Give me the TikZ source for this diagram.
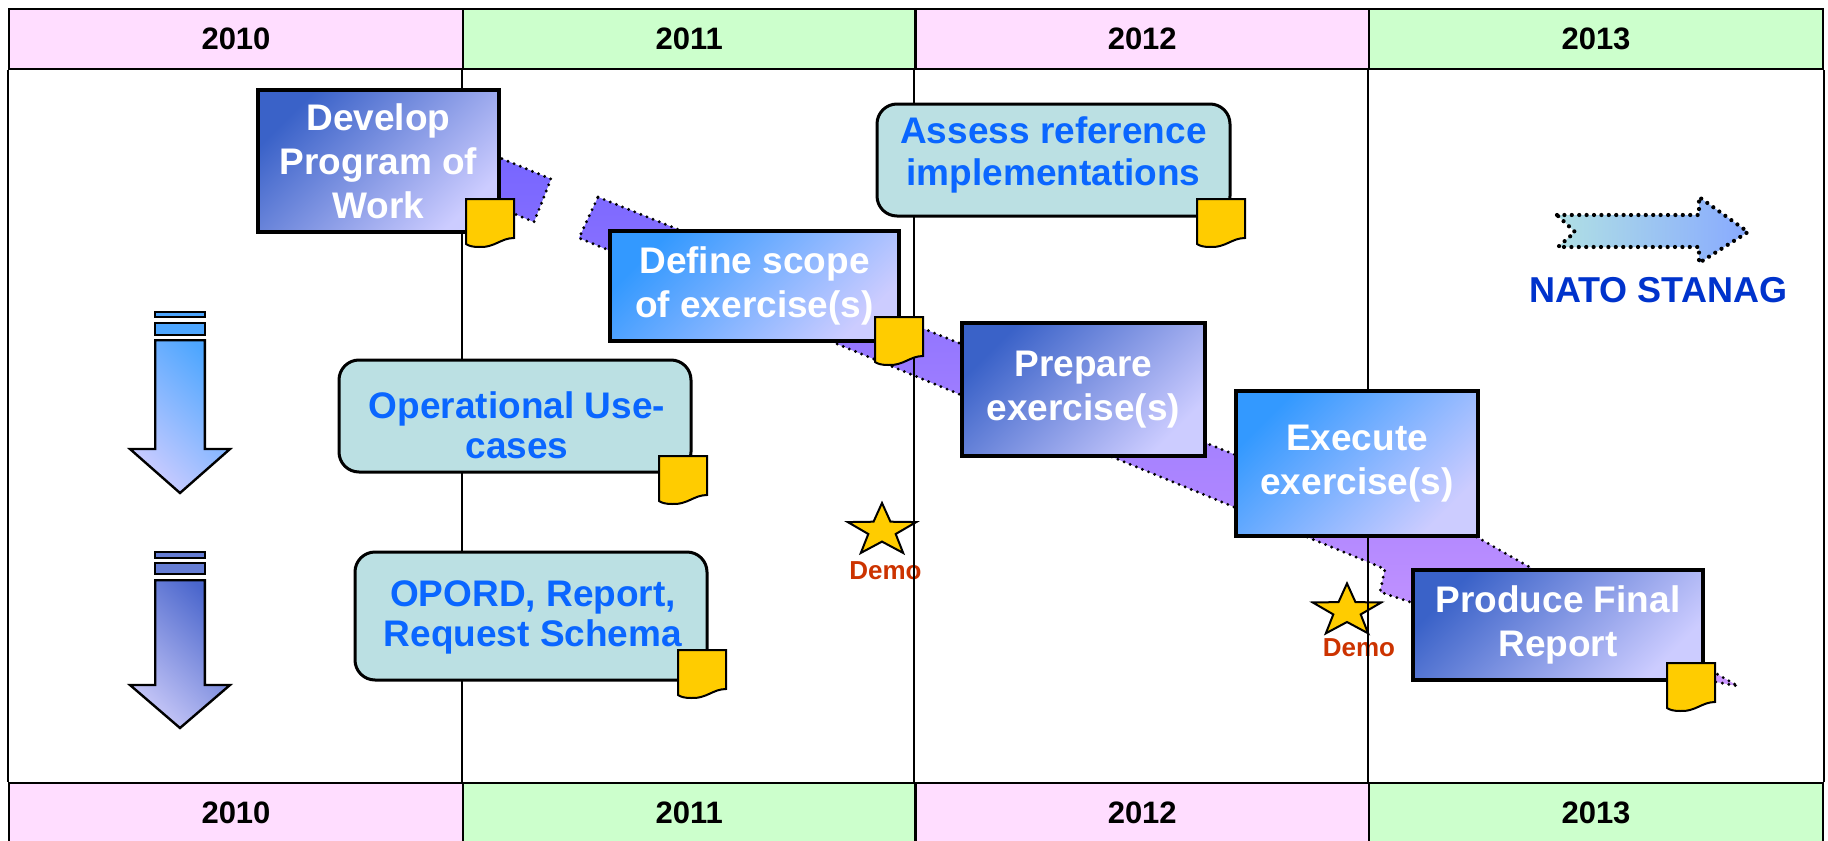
\documentclass[tikz,border=0pt]{standalone}
\usepackage{fontspec}
\setmainfont{Liberation Sans}
\definecolor{pinkc}{HTML}{FFDDFF}
\definecolor{greenc}{HTML}{CCFFCC}
\definecolor{tealc}{HTML}{BBE0E3}
\definecolor{bluetxt}{HTML}{0A66FF}
\definecolor{natoblue}{HTML}{0033CC}
\definecolor{demored}{HTML}{CC3300}
\definecolor{noteyel}{HTML}{FFCC00}
\definecolor{darkbl}{HTML}{3A62C8}
\definecolor{lightbl}{HTML}{3399FF}
\definecolor{lav}{HTML}{CCCCFF}
\definecolor{bandtop}{HTML}{7464FF}
\definecolor{bandbot}{HTML}{CC98FF}
\definecolor{arrAtop}{HTML}{4DA6FF}
\definecolor{arrAbot}{HTML}{CCCCFF}
\definecolor{arrBtop}{HTML}{4A66CC}
\definecolor{arrBbot}{HTML}{C8C8F8}
\definecolor{natoL}{HTML}{B0E0E4}
\definecolor{natoR}{HTML}{88AAFF}
\newcommand\mystar[2]{\draw[starst] (#1,#2) +(-90:36 and 27.6) -- +(-54:14.4 and 11) -- +(-18:36 and 27.6) -- +(18:14.4 and 11) -- +(54:36 and 27.6) -- +(90:14.4 and 11) -- +(126:36 and 27.6) -- +(162:14.4 and 11) -- +(198:36 and 27.6) -- +(234:14.4 and 11) -- cycle;}
\newcommand\docnote[2]{\begin{scope}[shift={(#1,#2)}]\draw[notest] (0,0) -- (48,0) -- (48,39) .. controls (35,39) and (28,49) .. (13,48) .. controls (7,48) and (3,47) .. (0,45) -- cycle;\end{scope}}
\begin{document}
\begin{tikzpicture}[x=0.5pt,y=-0.5pt,
 yearcell/.style={draw=black, line width=1.2pt, font=\fontsize{15.5}{18}\selectfont\bfseries},
 gridline/.style={draw=black, line width=1pt},
 taskbox/.style={draw=black, line width=2pt, text=white, align=center, inner sep=0pt, font=\fontsize{18.5}{22}\selectfont\bfseries},
 darktask/.style={taskbox, top color=darkbl, bottom color=lav, shading angle=45},
 lighttask/.style={taskbox, top color=lightbl, bottom color=lav, shading angle=45},
 infobox/.style={draw=black, line width=1.5pt, fill=tealc, rounded corners=10pt},
 infotext/.style={text=bluetxt, align=center, inner sep=0pt, font=\fontsize{18.5}{20}\selectfont\bfseries},
 notest/.style={draw=black, line width=1pt, fill=noteyel},
 starst/.style={draw=black, line width=1pt, fill=noteyel},
 demotext/.style={text=demored, font=\fontsize{13}{15}\selectfont\bfseries},
 bandst/.style={top color=bandtop, bottom color=bandbot, draw=black, line width=1.6pt, dash pattern=on 0pt off 3.3pt, line cap=round},
 arrowA/.style={draw=black, line width=1.2pt, top color=arrAtop, bottom color=arrAbot, shading angle=-45},
 arrowB/.style={draw=black, line width=1.2pt, top color=arrBtop, bottom color=arrBbot, shading angle=-45},
 stripeA/.style={draw=black, line width=1.2pt, fill=arrAtop},
 stripeB/.style={draw=black, line width=1.2pt, fill=arrBtop!85!white},
 natoarrow/.style={left color=natoL, right color=natoR, draw=black, line width=2.1pt, dash pattern=on 0pt off 3.7pt, line cap=round},
 natotext/.style={text=natoblue, font=\fontsize{18}{21}\selectfont\bfseries},
]
\useasboundingbox (0,0) rectangle (1828,841);

% year headers
\node[yearcell, fill=pinkc, minimum width=227pt, minimum height=30pt] (t2010) at (236,39) {2010};
\node[yearcell, fill=greenc, minimum width=226.25pt, minimum height=30pt] (t2011) at (689.25,39) {2011};
\node[yearcell, fill=pinkc, minimum width=226.75pt, minimum height=30pt] (t2012) at (1142.25,39) {2012};
\node[yearcell, fill=greenc, minimum width=227pt, minimum height=30pt] (t2013) at (1596,39) {2013};
\node[yearcell, fill=pinkc, minimum width=227pt, minimum height=30pt] (b2010) at (236,813) {2010};
\node[yearcell, fill=greenc, minimum width=226.25pt, minimum height=30pt] (b2011) at (689.25,813) {2011};
\node[yearcell, fill=pinkc, minimum width=226.75pt, minimum height=30pt] (b2012) at (1142.25,813) {2012};
\node[yearcell, fill=greenc, minimum width=227pt, minimum height=30pt] (b2013) at (1596,813) {2013};

% purple flow band
\shadedraw[bandst] (447,136) -- (551,179) -- (534,222) -- (430,179) -- cycle
 (598,197) -- (1300,481) -- (1440,516) -- (1738,686) -- (1716,682) -- (1690,676) -- (1600,650) -- (1413,603) -- (1380,592) -- (1385,569) -- (579,238) -- cycle;

% stars
\mystar{882}{530.6}
\mystar{1347}{611}
\node[demotext] (demo1) at (885.5,571) {Demo};
\node[demotext] (demo2) at (1359,648) {Demo};

% grid lines
\draw[gridline] (t2010.south west) -- (b2010.north west);
\draw[gridline] (t2011.south west) -- (b2011.north west);
\draw[gridline] (t2012.south west) -- (b2012.north west);
\draw[gridline] (t2013.south west) -- (b2013.north west);
\draw[gridline] (t2013.south east) -- (b2013.north east);

% task boxes
\node[darktask, minimum width=120.5pt, minimum height=71pt] (develop) at (378.5,161) {Develop\\Program of\\Work};
\node[lighttask, minimum width=144.5pt, minimum height=55pt] (define) at (754.5,286) {Define scope\\of exercise(s)};
\node[darktask, minimum width=121.5pt, minimum height=66.5pt] (prepare) at (1083.5,389.5) {Prepare\\exercise(s)};
\node[lighttask, minimum width=121pt, minimum height=72.5pt] (execute) at (1357,463.5) {Execute\\exercise(s)};
\node[darktask, minimum width=145pt, minimum height=55pt] (final) at (1558,625) {Produce Final\\Report};

% info boxes
\node[infobox, minimum width=176.5pt, minimum height=56pt] (assess) at (1053.5,160) {};
\node[infotext, font=\fontsize{18.5}{21}\selectfont\bfseries] (assessT) at (1053.5,155) {Assess reference\\implementations};
\node[infobox, minimum width=176pt, minimum height=56pt] (opuse) at (515,416) {};
\node[infotext] (opuseT) at (517,425) {Operational Use-\\cases};
\node[infobox, minimum width=176pt, minimum height=64pt] (opord) at (531,616) {};
\node[infotext] (opordT) at (533,617) {OPORD, Report,\\Request Schema};

% notes
\docnote{466}{199}
\docnote{1197}{199}
\docnote{875}{317}
\docnote{659}{456}
\docnote{678}{650}
\docnote{1667}{663}

% down arrows
\shadedraw[arrowA] (155.2,340.2) -- (204.8,340.2) -- (204.8,449) -- (230,449) -- (180,493) -- (130,449) -- (155.2,449) -- cycle;
\draw[stripeA] (155.2,312.2) rectangle (204.8,316.8);
\draw[stripeA] (155.2,323.2) rectangle (204.8,334.8);
\shadedraw[arrowB] (155.2,580.2) -- (204.8,580.2) -- (204.8,685) -- (230,685) -- (180,728) -- (130,685) -- (155.2,685) -- cycle;
\draw[stripeB] (155.2,552.2) rectangle (204.8,557.8);
\draw[stripeB] (155.2,563.2) rectangle (204.8,573.8);

% NATO STANAG
\shadedraw[natoarrow] (1557,215) -- (1699,215) -- (1699,197) -- (1748,232) -- (1699,263) -- (1699,247) -- (1558,247) -- (1575,232) -- cycle;
\node[natotext] (nato) at (1658,290) {NATO STANAG};
\end{tikzpicture}
\end{document}
